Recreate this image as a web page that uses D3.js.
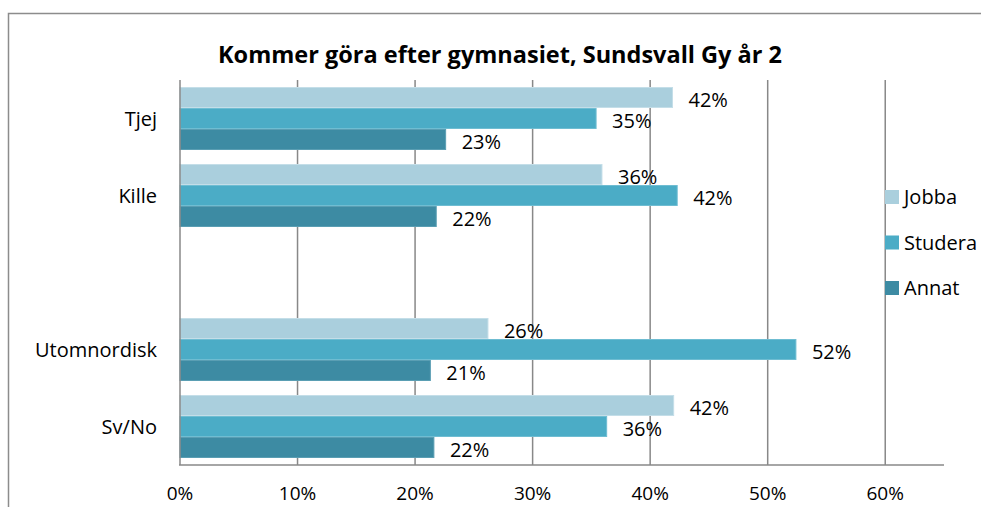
<!DOCTYPE html>
<html>
<head>
<meta charset="utf-8">
<script src="https://cdn.jsdelivr.net/npm/d3@7"></script>
<style>
  html, body { margin: 0; padding: 0; background: #fff; }
  svg text { font-family: "Open Sans", "DejaVu Sans", sans-serif; fill: #000; }
</style>
</head>
<body>
<svg id="chart" width="981" height="507"></svg>
<script>
// Categories (the empty string is a spacer row between the two groupings)
const categories = ["Tjej", "Kille", "", "Utomnordisk", "Sv/No"];
const seriesNames = ["Jobba", "Studera", "Annat"];
const jobba   = [0.419, 0.359, null, 0.262, 0.420];
const studera = [0.354, 0.423, null, 0.524, 0.363];
const annat   = [0.226, 0.218, null, 0.213, 0.216];
const tickValues = [0, 0.1, 0.2, 0.3, 0.4, 0.5, 0.6];
const colors = ["#AACFDD", "#4BACC6", "#3D8BA3"];
const strokes = ["#C4DEE8", "#6FBDD2", "#5A9EB3"];

const seriesValues = [jobba, studera, annat];
const fmt = d3.format(".0%");
const labelSize = 20;

const svg = d3.select("#chart");
const W = 981, H = 507;
const plot = { left: 180, right: 944, top: 80, bottom: 465 };

// outer frame
svg.append("path")
  .attr("d", `M8.5,${H} L8.5,13.5 L${W},13.5`)
  .attr("fill", "none").attr("stroke", "#8c8c8c").attr("stroke-width", 1.5);

// scales
const x = d3.scaleLinear().domain([0, 0.65]).range([plot.left, plot.right]);
const y = d3.scaleBand().domain(categories.map((c, i) => i))
  .range([plot.top, plot.bottom]).paddingInner(14 / 77).paddingOuter(7 / 77);
const ySub = d3.scaleBand().domain(seriesNames).range([0, y.bandwidth()]);

// vertical gridlines
svg.append("g").selectAll("line").data(tickValues.slice(1)).join("line")
  .attr("x1", d => x(d)).attr("x2", d => x(d))
  .attr("y1", plot.top).attr("y2", plot.bottom)
  .attr("stroke", "#888").attr("stroke-width", 1.5);

// bars
const rows = categories.map((c, i) => ({ i, c }));
const groups = svg.append("g").selectAll("g").data(rows.filter(r => jobba[r.i] !== null)).join("g")
  .attr("transform", r => `translate(0,${y(r.i)})`);

groups.each(function (r) {
  const g = d3.select(this);
  seriesNames.forEach((s, k) => {
    const v = seriesValues[k][r.i];
    g.append("rect")
      .attr("x", x(0))
      .attr("y", ySub(s) + 0.5)
      .attr("width", x(v) - x(0))
      .attr("height", ySub.bandwidth() - 1)
      .attr("fill", colors[k])
      .attr("stroke", strokes[k]).attr("stroke-width", 1);
  });
});

// value labels
groups.each(function (r) {
  const g = d3.select(this);
  seriesNames.forEach((s, k) => {
    const v = seriesValues[k][r.i];
    g.append("text")
      .attr("x", x(v) + 16)
      .attr("y", ySub(s) + ySub.bandwidth() / 2 + 2)
      .attr("dy", "0.36em")
      .attr("font-size", labelSize)
      .text(fmt(v));
  });
});

// axes lines
svg.append("line").attr("x1", x(0)).attr("x2", x(0))
  .attr("y1", plot.top).attr("y2", plot.bottom)
  .attr("stroke", "#888").attr("stroke-width", 1.5);
svg.append("line").attr("x1", x(0) - 1).attr("x2", plot.right)
  .attr("y1", plot.bottom).attr("y2", plot.bottom)
  .attr("stroke", "#888").attr("stroke-width", 1.5);

// x tick labels
svg.append("g").selectAll("text").data(tickValues).join("text")
  .attr("x", d => x(d)).attr("y", 500)
  .attr("text-anchor", "middle").attr("font-size", 19)
  .text(d => fmt(d));

// category labels
svg.append("g").selectAll("text").data(rows.filter(r => r.c)).join("text")
  .attr("x", 157).attr("y", r => y(r.i) + y.bandwidth() / 2)
  .attr("dy", "0.36em")
  .attr("text-anchor", "end").attr("font-size", labelSize)
  .text(r => r.c);

// title
svg.append("text")
  .attr("x", 500).attr("y", 63)
  .attr("text-anchor", "middle")
  .attr("font-size", 23.5).attr("font-weight", "bold")
  .text("Kommer göra efter gymnasiet, Sundsvall Gy år 2");

// legend
const legend = svg.append("g").selectAll("g").data(seriesNames).join("g")
  .attr("transform", (d, k) => `translate(885,${197 + k * 45.5})`);
legend.append("rect").attr("x", 0).attr("y", -7).attr("width", 14).attr("height", 14)
  .attr("fill", (d, k) => colors[k]);
legend.append("text").attr("x", 19).attr("y", 0).attr("dy", "0.36em")
  .attr("font-size", labelSize).text(d => d);
</script>
</body>
</html>
